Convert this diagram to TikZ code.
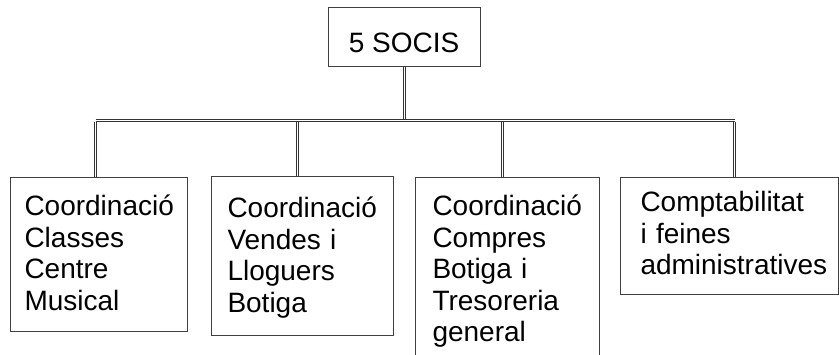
\documentclass[tikz,border=0pt]{standalone}
\usepackage{fontspec}
\setmainfont{Liberation Sans}
\usepackage{tikz}

\begin{document}
\begin{tikzpicture}[x=1pt,y=-1pt]
			\tikzstyle{every node}=[draw=black!75,line width=1pt,text=black,inner ysep=0pt,font=\fontsize{28}{31.5}\selectfont]
			\tikzstyle{unitat}=[anchor=north west,align=left]
			\tikzstyle{conn}=[draw=black!80,line width=1pt,double=white,double distance=1pt]
			\useasboundingbox (0,0) rectangle (839,354);
			
			\node         (socis) [anchor=north,inner xsep=0pt,minimum width=152pt,text height=45pt,text depth=14pt] at (404,7) {5 SOCIS};
			\node [unitat,inner xsep=14pt,text width=149pt,text height=38pt,text depth=116pt] (c1) at (10,177)  {Coordinació\\Classes\\Centre\\Musical};
			\node [unitat,inner xsep=16pt,text width=150pt,text height=41pt,text depth=118pt] (c2) at (211,176) {Coordinació\\Vendes i\\Lloguers\\Botiga};
			\node [unitat,inner xsep=17pt,text width=150pt,text height=38pt,text depth=150pt] (c3) at (415,177) {Coordinació\\Compres\\Botiga i\\Tresoreria\\general};
			\node [unitat,inner xsep=20pt,text width=178pt,text height=34pt,text depth=83pt]  (c4) at (620,177) {Comptabilitat\\i feines\\administratives};
			
			\coordinate (hub)  at (404,118.5);
			\coordinate (barL) at (95.5,120);
			\coordinate (barR) at (734.5,120);
			\coordinate (t1) at (95.5,121.6);
			\coordinate (t2) at (297,121.6);
			\coordinate (t3) at (502,121.6);
			\coordinate (t4) at (734.5,121.6);
			
			\draw[conn] (socis.south) -- (hub);
			\draw[conn] (barL) -- (barR);
			\draw[conn] (t1) -- (t1 |- c1.north);
			\draw[conn] (t2) -- (t2 |- c2.north);
			\draw[conn] (t3) -- (t3 |- c3.north);
			\draw[conn] (t4) -- (t4 |- c4.north);
			\end{tikzpicture}
\end{document}
